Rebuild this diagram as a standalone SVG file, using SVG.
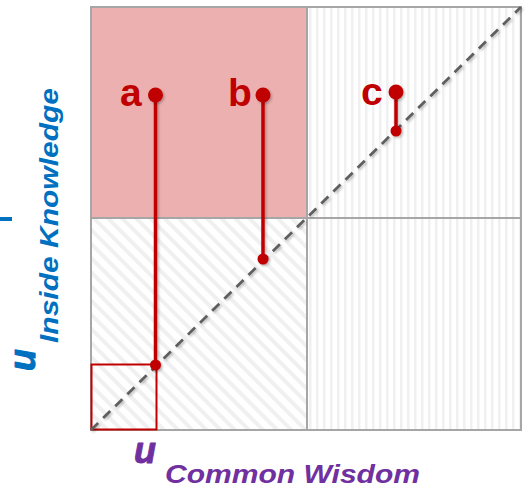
<svg xmlns="http://www.w3.org/2000/svg" width="529" height="488" viewBox="0 0 529 488">
<style>
.quad{stroke:#A6A6A6;stroke-width:2}
.lbl{font-family:"Liberation Sans",Arial,sans-serif;font-weight:bold;fill:#C00000;font-size:39px}
.ax{font-family:"Liberation Sans",Arial,sans-serif;font-weight:bold;font-style:italic}
.big{font-size:36px;stroke-width:1;stroke-linejoin:round}
.red{stroke:#C00000;stroke-width:3.5;fill:none}
.dot{fill:#C00000}
</style>
<defs>
<pattern id="vstripe" patternUnits="userSpaceOnUse" x="307" y="0" width="7" height="10">
<rect width="7" height="10" fill="#ffffff"/>
<rect x="2" width="2.5" height="10" fill="#F0F0F0"/>
</pattern>
<pattern id="dstripe" patternUnits="userSpaceOnUse" width="10" height="10" patternTransform="rotate(-45)">
<rect width="10" height="10" fill="#ffffff"/>
<rect width="4" height="10" fill="#F0F0F0"/>
</pattern>
<filter id="sh" x="-20%" y="-20%" width="140%" height="140%">
<feDropShadow dx="1.5" dy="1.5" stdDeviation="1.2" flood-color="#000" flood-opacity="0.25"/>
</filter>
</defs>
<rect width="529" height="488" fill="#ffffff"/>

<g id="quad-top-left"><rect class="quad" x="91" y="7" width="216" height="211" fill="#ECB0B0"/></g>
<g id="quad-top-right"><rect class="quad" x="307" y="7" width="214" height="211" fill="url(#vstripe)"/></g>
<g id="quad-bottom-left"><rect class="quad" x="91" y="218" width="216" height="212" fill="url(#dstripe)"/></g>
<g id="quad-bottom-right"><rect class="quad" x="307" y="218" width="214" height="212" fill="url(#vstripe)"/></g>

<g id="small-square"><rect x="91.5" y="364.5" width="65" height="65" fill="none" stroke="#C00000" stroke-width="2"/></g>

<g id="connectors">
<line x1="91" y1="430" x2="521" y2="7" stroke="#5F5F5F" stroke-width="2.8" stroke-dasharray="10 7" filter="url(#sh)"/>
<g filter="url(#sh)">
<line class="red" x1="155.5" y1="95" x2="155.5" y2="365"/>
<line class="red" x1="263" y1="95" x2="263" y2="259"/>
<line class="red" x1="396" y1="92" x2="396" y2="131"/>
</g>
</g>

<g id="point-a" filter="url(#sh)">
<circle class="dot" cx="155.5" cy="95" r="7.5"/>
<circle class="dot" cx="155.5" cy="365" r="5.5"/>
</g>
<g id="point-b" filter="url(#sh)">
<circle class="dot" cx="263" cy="95" r="7.5"/>
<circle class="dot" cx="263" cy="259" r="5.5"/>
</g>
<g id="point-c" filter="url(#sh)">
<circle class="dot" cx="396" cy="92" r="7.5"/>
<circle class="dot" cx="396" cy="131" r="5.5"/>
</g>

<g id="labels">
<text class="lbl" x="120" y="106">a</text>
<text class="lbl" x="228" y="106">b</text>
<text class="lbl" x="361" y="105">c</text>
</g>

<g id="y-axis-label">
<rect x="0" y="217" width="12" height="4" fill="#0070C0"/>
<text class="ax big" fill="#0070C0" stroke="#0070C0" transform="translate(35,371) rotate(-90)" x="0" y="0">u</text>
<text class="ax" fill="#0070C0" font-size="26" transform="translate(58,343) rotate(-90)" x="0" y="0" textLength="255" lengthAdjust="spacingAndGlyphs">Inside Knowledge</text>
</g>

<g id="x-axis-label">
<text class="ax big" fill="#7030A0" stroke="#7030A0" x="134" y="463">u</text>
<text class="ax" fill="#7030A0" font-size="26" x="165" y="483" textLength="255" lengthAdjust="spacingAndGlyphs">Common Wisdom</text>
</g>
</svg>
